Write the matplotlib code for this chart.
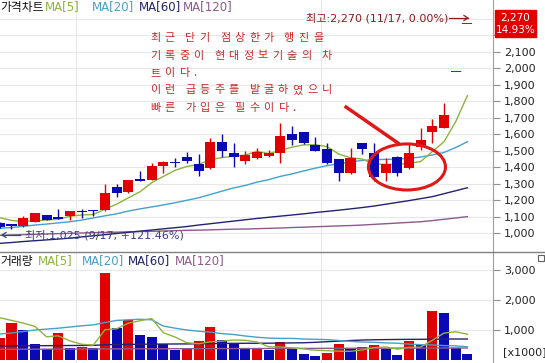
import matplotlib
matplotlib.use('Agg')
import matplotlib.pyplot as plt
from matplotlib.patches import Rectangle, Ellipse
from matplotlib.lines import Line2D

plt.rcParams['font.family'] = ['DejaVu Sans', 'Noto Sans CJK KR']

# daily candles (9/16 ~ 11/17)
opens = [1064, 1055, 1044, 1070, 1109, 1097, 1105, 1133, 1137, 1141,
         1279, 1248, 1327, 1323, 1408, 1434, 1464, 1418, 1394, 1552,
         1485, 1440, 1455, 1468, 1485, 1600, 1612, 1535, 1509, 1448,
         1364, 1545, 1485, 1364, 1464, 1394, 1525, 1616, 1640, 1975, 2270]
highs = [1068, 1058, 1105, 1125, 1112, 1147, 1138, 1147, 1140, 1299,
         1299, 1326, 1378, 1424, 1437, 1458, 1491, 1479, 1580, 1600,
         1545, 1500, 1515, 1505, 1670, 1650, 1615, 1585, 1545, 1450,
         1515, 1548, 1545, 1455, 1467, 1545, 1636, 1691, 1792, 1975, 2270]
lows = [1035, 1025, 1040, 1068, 1078, 1085, 1081, 1091, 1103, 1138,
        1222, 1245, 1316, 1320, 1364, 1404, 1428, 1349, 1390, 1464,
        1404, 1418, 1452, 1465, 1428, 1535, 1542, 1498, 1420, 1319,
        1360, 1479, 1317, 1317, 1347, 1390, 1505, 1545, 1636, 1975, 2270]
closes = [1040, 1044, 1091, 1121, 1081, 1087, 1135, 1131, 1135, 1242,
          1242, 1323, 1319, 1408, 1434, 1424, 1440, 1379, 1552, 1499,
          1464, 1474, 1495, 1485, 1590, 1565, 1545, 1500, 1424, 1364,
          1455, 1509, 1343, 1418, 1364, 1488, 1565, 1650, 1717, 1975, 2270]

ma5 = [1095, 1078, 1072, 1076, 1080, 1085, 1103, 1111, 1114, 1146,
       1177, 1215, 1252, 1307, 1345, 1382, 1405, 1417, 1446, 1459,
       1467, 1474, 1497, 1483, 1502, 1522, 1536, 1537, 1525, 1480,
       1458, 1450, 1419, 1418, 1418, 1424, 1435, 1495, 1555, 1677, 1834]
ma20 = [1030, 1035, 1042, 1050, 1056, 1063, 1070, 1080, 1093, 1106,
        1118, 1135, 1148, 1160, 1172, 1185, 1200, 1215, 1235, 1255,
        1275, 1290, 1310, 1325, 1345, 1360, 1378, 1395, 1410, 1422,
        1432, 1442, 1446, 1448, 1450, 1455, 1462, 1475, 1490, 1520, 1555]
ma60 = [939, 944, 950, 955, 960, 965, 971, 978, 985, 992,
        999, 1006, 1013, 1020, 1027, 1034, 1041, 1050, 1058, 1066,
        1074, 1082, 1090, 1097, 1104, 1111, 1118, 1126, 1133, 1140,
        1148, 1156, 1165, 1176, 1187, 1198, 1210, 1222, 1240, 1258, 1276]
ma120 = [988, 990, 992, 994, 996, 998, 1000, 1002, 1004, 1005,
         1007, 1009, 1011, 1012, 1014, 1016, 1018, 1019, 1021, 1023,
         1025, 1026, 1028, 1030, 1032, 1035, 1037, 1040, 1042, 1045,
         1047, 1050, 1054, 1058, 1062, 1066, 1070, 1077, 1085, 1093, 1101]

# volume, x1000 shares
volumes = [743, 1243, 990, 543, 357, 890, 410, 420, 410, 2910,
           1057, 1343, 823, 777, 543, 333, 410, 633, 1110, 657,
           523, 357, 357, 323, 610, 377, 190, 133, 243, 523,
           357, 433, 500, 357, 167, 633, 500, 1633, 1557, 390, 210]
vma5 = [1410, 1320, 1230, 1120, 775, 805, 638, 524, 497, 1008,
        1041, 1228, 1309, 1382, 909, 764, 577, 539, 606, 629,
        667, 656, 601, 443, 434, 405, 371, 327, 311, 293,
        289, 338, 411, 434, 363, 418, 431, 658, 898, 943, 858]
vma20 = [867, 900, 950, 1000, 1030, 1060, 1100, 1140, 1170, 1250,
         1320, 1340, 1360, 1340, 1130, 1060, 1000, 960, 930, 880,
         850, 800, 760, 730, 720, 720, 700, 690, 680, 650,
         620, 600, 590, 570, 560, 530, 510, 500, 480, 470, 440]
vma60 = [467, 470, 473, 476, 478, 480, 483, 485, 487, 510,
         515, 520, 525, 530, 532, 534, 536, 540, 548, 552,
         555, 557, 558, 560, 565, 570, 575, 590, 610, 630,
         650, 665, 675, 680, 685, 688, 690, 692, 700, 700, 700]
vma120 = [357, 358, 360, 360, 362, 363, 365, 366, 367, 370,
          371, 372, 373, 374, 375, 376, 377, 378, 379, 380,
          381, 382, 383, 384, 385, 386, 387, 388, 389, 390,
          391, 392, 393, 394, 395, 396, 397, 398, 399, 400, 401]

high_label = '최고:2,270 (11/17, 0.00%)'
low_label = '최저:1,025 (9/17, +121.46%)'
last_price = '2,270'
last_change = '14.93%'
note_lines = ['최근 단기 점상한가 행진을',
              '기록중이 현대정보기술의 차',
              '트이다.',
              '이런 급등주를 발굴하였으니',
              '빠른 가입은 필수이다.']

RED = '#E00000'
BLUE = '#0A0AB4'
C5, C20, C60, C120 = '#8CB43C', '#46A0C8', '#23236E', '#8C5A8C'

W, H = 545, 363
fig = plt.figure(figsize=(W / 100, H / 100), dpi=100)


def fx(x):
    return x / W


def fy(y):
    return 1 - y / H


ax = fig.add_axes([0, fy(251), 493 / W, 251 / H])
axv = fig.add_axes([0, 0, 493 / W, 110 / H])

x = list(range(len(closes)))
xlim = (0.2 / 11.69, 493.2 / 11.69)

# ---- price panel ----
for p in range(1000, 2400, 100):
    ax.axhline(p, color='#E8E8E8', lw=0.8, zorder=0)
for xv in (6.52, 27.48):
    ax.axvline(xv, color='#E8E8E8', lw=0.8, zorder=0)

ax.plot(x, ma120, color=C120, lw=1, zorder=2)
ax.plot(x, ma60, color=C60, lw=1, zorder=2)
ax.plot(x, ma20, color=C20, lw=1, zorder=2)
ax.plot(x, ma5, color=C5, lw=1, zorder=2)

cols = [RED if c >= o else BLUE for o, c in zip(opens, closes)]
ax.vlines(x, lows, highs, colors=cols, lw=1, zorder=3)
bodies = [max(abs(c - o), 7) for o, c in zip(opens, closes)]
bottoms = [min(o, c) for o, c in zip(opens, closes)]
ax.bar(x, bodies, bottom=bottoms, width=0.86, color=cols, zorder=4)

ax.set_xlim(*xlim)
ax.set_ylim(892.7, 2414)
ax.yaxis.tick_right()
yt = list(range(1000, 2300, 100))
ax.set_yticks(yt)
# 2,200 sits under the last-price box
ax.set_yticklabels([f'{v:,}' if v < 2200 else '' for v in yt])
ax.tick_params(axis='y', length=5, color='#909090', labelsize=8,
               labelcolor='#222222', pad=3)
ax.set_xticks([])
for s in ('top', 'left', 'bottom'):
    ax.spines[s].set_visible(False)
ax.spines['right'].set_color('#A0A0A0')

# circle + pointer
ax.add_patch(Ellipse((34.83, 1402), 6.59, 279, fill=False,
                     ec='#E01818', lw=2.2, zorder=5))
ax.plot([29.62, 34.06], [1765, 1547], color='#E01818', lw=2.5, zorder=5)

# ---- volume panel ----
for v in (1000, 2000, 3000):
    axv.axhline(v, color='#E8E8E8', lw=0.8, zorder=0)
for xv in (6.52, 27.48):
    axv.axvline(xv, color='#E8E8E8', lw=0.8, zorder=0)
vcols = [RED] + [RED if volumes[i] >= volumes[i - 1] else BLUE
                 for i in range(1, len(volumes))]
axv.bar(x, volumes, width=0.86, color=vcols, zorder=2)
axv.plot(x, vma120, color=C120, lw=1, zorder=3)
axv.plot(x, vma60, color=C60, lw=1, zorder=3)
axv.plot(x, vma20, color=C20, lw=1, zorder=3)
axv.plot(x, vma5, color=C5, lw=1, zorder=3)
axv.set_xlim(*xlim)
axv.set_ylim(-100, 3567)
axv.yaxis.tick_right()
axv.set_yticks([1000, 2000, 3000])
axv.set_yticklabels(['1,000', '2,000', '3,000'])
axv.tick_params(axis='y', length=5, color='#909090', labelsize=8,
                labelcolor='#222222', pad=3)
axv.set_xticks([])
for s in ('top', 'left', 'bottom'):
    axv.spines[s].set_visible(False)
axv.spines['right'].set_color('#A0A0A0')

# ---- figure-level decorations ----
fig.add_artist(Line2D([0, 1], [fy(252), fy(252)], color='#808080', lw=1))

legend_top = [('가격차트', 0, '#111111'), ('MA[5]', 45, C5), ('MA[20]', 92, C20),
              ('MA[60]', 139, C60), ('MA[120]', 183, C120)]
for t, px, c in legend_top:
    fig.text(fx(px), fy(7), t, color=c, fontsize=8.5, va='center', ha='left')
legend_vol = [('거래량', 0, '#111111'), ('MA[5]', 38, C5), ('MA[20]', 82, C20),
              ('MA[60]', 128, C60), ('MA[120]', 175, C120)]
for t, px, c in legend_vol:
    fig.text(fx(px), fy(261), t, color=c, fontsize=8.5, va='center', ha='left')

fig.text(fx(503), fy(352), '[x1000]', fontsize=8, color='#222222', va='center')

# small close box of the volume pane
fig.add_artist(Rectangle((fx(538), fy(261)), 6 / W, 6 / H, transform=fig.transFigure,
                         fill=False, ec='#606060', lw=0.8))

# last price box
fig.add_artist(Rectangle((fx(495), fy(37)), 41 / W, 27 / H, transform=fig.transFigure,
                         color=RED, zorder=5))
fig.text(fx(515.5), fy(17.5), last_price, color='white', fontsize=7.5, ha='center',
         va='center', zorder=6)
fig.text(fx(515.5), fy(30), last_change, color='white', fontsize=7.5, ha='center',
         va='center', zorder=6)

# high / low notes
fig.text(fx(306), fy(18), high_label, color='#8B1A1A', fontsize=8, va='center')
fig.add_artist(Line2D([fx(449), fx(468)], [fy(18), fy(18)], color='#8B1A1A', lw=0.9))
fig.add_artist(Line2D([fx(464), fx(468), fx(464)], [fy(15.5), fy(18), fy(20.5)],
                      color='#8B1A1A', lw=0.9))
fig.text(fx(25), fy(235), low_label, color='#3C3C8C', fontsize=8, va='center')
fig.add_artist(Line2D([fx(2), fx(20)], [fy(235), fy(235)], color='#3C3C8C', lw=0.9))
fig.add_artist(Line2D([fx(6), fx(2), fx(6)], [fy(232.5), fy(235), fy(237.5)],
                      color='#3C3C8C', lw=0.9))

# red comment, letter-spaced
for k, line in enumerate(note_lines):
    cx = 150
    cy = 38 + k * 17.5
    for ch in line:
        if ch == ' ':
            cx += 6
            continue
        fig.text(fx(cx), fy(cy), ch, color='#C82828', fontsize=8,
                 family=['Noto Sans CJK KR', 'DejaVu Sans'], va='center', ha='left')
        cx += 14.5 if ch != '.' else 6

fig.savefig('out.png', dpi=100)
